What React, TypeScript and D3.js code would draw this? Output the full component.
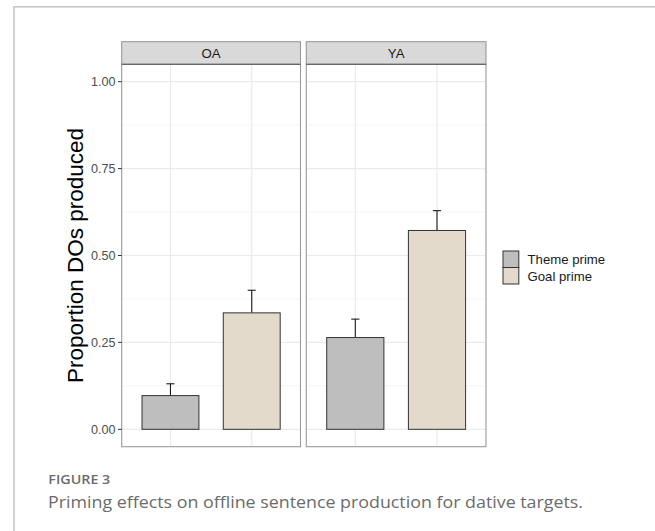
import React from "react";
import * as d3 from "d3";

const groups = ["OA", "YA"];
const primes = ["Theme prime", "Goal prime"];
const oaMeans = [0.097, 0.335];
const oaUpper = [0.131, 0.4];
const yaMeans = [0.264, 0.572];
const yaUpper = [0.317, 0.629];
const yTicks = [0, 0.25, 0.5, 0.75, 1.0];
const yMinor = [0.125, 0.375, 0.625, 0.875];
const fills = ["#bebebe", "#e3dacb"];

const W = 655;
const H = 531;
const FONT = "'Liberation Sans', Arial, Helvetica, sans-serif";

export default function App() {
  const panelTop = 64.3;
  const panelBottom = 446.7;
  const stripTop = 41.7;
  const panels = [
    { name: groups[0], l: 121.7, r: 300.5, means: oaMeans, upper: oaUpper },
    { name: groups[1], l: 306.3, r: 486, means: yaMeans, upper: yaUpper },
  ];
  const y = d3.scaleLinear().domain([-0.05, 1.05]).range([panelBottom, panelTop]);
  const yFmt = d3.format(".2f");

  return (
    <svg width={W} height={H} style={{ position: "absolute", left: 0, top: 0 }} fontFamily={FONT}>
      <rect x={0} y={0} width={W} height={H} fill="#fff" />
      {/* card border */}
      <rect x={14} y={6.8} width={W + 20} height={H + 20} fill="none" stroke="#c4c4c4" strokeWidth={1.5} />

      {panels.map((p) => {
        const x = d3.scalePoint<string>().domain(primes).range([p.l, p.r]).padding(0.6);
        const step = x.step();
        const bw = step * 0.7;
        const cw = step * 0.1;
        return (
          <g key={p.name}>
            <rect x={p.l} y={panelTop} width={p.r - p.l} height={panelBottom - panelTop} fill="#fff" />
            {yMinor.map((t) => (
              <line key={"mi" + t} x1={p.l} x2={p.r} y1={y(t)} y2={y(t)} stroke="#f2f2f2" strokeWidth={0.8} />
            ))}
            {yTicks.map((t) => (
              <line key={"ma" + t} x1={p.l} x2={p.r} y1={y(t)} y2={y(t)} stroke="#ebebeb" strokeWidth={1.2} />
            ))}
            {primes.map((c) => (
              <line key={"vx" + c} x1={x(c)} x2={x(c)} y1={panelTop} y2={panelBottom} stroke="#ebebeb" strokeWidth={1.2} />
            ))}
            {primes.map((c, i) => {
              const cx = x(c)!;
              return (
                <g key={"err" + c}>
                  <line x1={cx} x2={cx} y1={y(p.means[i])} y2={y(p.upper[i])} stroke="#1a1a1a" strokeWidth={1.1} />
                  <line x1={cx - cw / 2} x2={cx + cw / 2} y1={y(p.upper[i])} y2={y(p.upper[i])} stroke="#1a1a1a" strokeWidth={1.1} />
                </g>
              );
            })}
            {primes.map((c, i) => (
              <rect
                key={"bar" + c}
                x={x(c)! - bw / 2}
                y={y(p.means[i])}
                width={bw}
                height={y(0) - y(p.means[i])}
                fill={fills[i]}
                stroke="#333"
                strokeWidth={1}
              />
            ))}
            <rect x={p.l} y={panelTop} width={p.r - p.l} height={panelBottom - panelTop} fill="none" stroke="#9a9a9a" strokeWidth={1.1} />
            {/* strip */}
            <rect x={p.l} y={stripTop} width={p.r - p.l} height={panelTop - stripTop} fill="#d9d9d9" stroke="#9a9a9a" strokeWidth={1.1} />
            <line x1={p.l} x2={p.r} y1={panelTop} y2={panelTop} stroke="#555" strokeWidth={1.1} />
            <text x={(p.l + p.r) / 2} y={(stripTop + panelTop) / 2 + 4.6} textAnchor="middle" fontSize={13.2} fill="#1a1a1a">
              {p.name}
            </text>
          </g>
        );
      })}

      {/* y axis */}
      {yTicks.map((t) => (
        <g key={"yt" + t}>
          <line x1={118} x2={121.7} y1={y(t)} y2={y(t)} stroke="#333" strokeWidth={1} />
          <text x={115.5} y={y(t) + 4.4} textAnchor="end" fontSize={12.6} fill="#4d4d4d">
            {yFmt(t)}
          </text>
        </g>
      ))}
      <text
        transform={`translate(${83},${(panelTop + panelBottom) / 2}) rotate(-90)`}
        textAnchor="middle"
        fontSize={22.5}
        fill="#000"
      >
        Proportion DOs produced
      </text>

      {/* legend */}
      {primes.map((c, i) => (
        <g key={"lg" + c}>
          <rect x={503} y={251 + i * 16.5} width={15.8} height={16.5} fill={fills[i]} stroke="#333" strokeWidth={1} />
          <text x={527.5} y={264 + i * 16.6} fontSize={13.2} fill="#1a1a1a">
            {c}
          </text>
        </g>
      ))}

      {/* caption */}
      <text x={48.3} y={484} fontSize={12.6} fill="#6b6b6b" fontFamily="'Open Sans', Lato, sans-serif" fontWeight={600} textLength={62} lengthAdjust="spacingAndGlyphs">
        FIGURE 3
      </text>
      <text x={48} y={507.5} fontSize={16} fill="#6b6b6b" fontFamily="'Open Sans', Lato, sans-serif" textLength={535} lengthAdjust="spacingAndGlyphs">
        Priming effects on offline sentence production for dative targets.
      </text>
    </svg>
  );
}
